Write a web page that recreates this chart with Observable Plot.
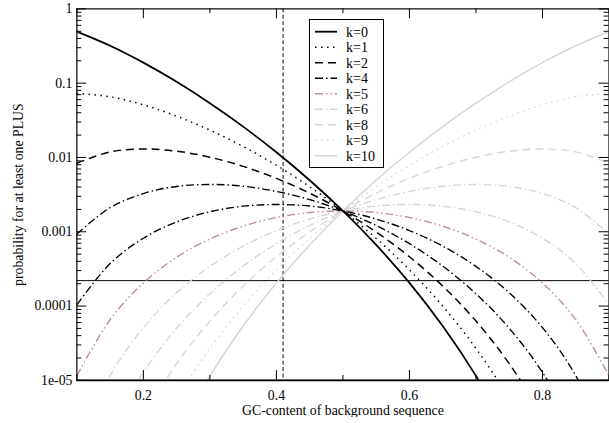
<!DOCTYPE html>
<html><head><meta charset="utf-8">
<script src="https://cdn.jsdelivr.net/npm/d3@7"></script>
<script src="https://cdn.jsdelivr.net/npm/@observablehq/plot@0.6"></script>
<style>
html,body{margin:0;padding:0;overflow:hidden;background:#fff;color:#000;}
#wrap{position:relative;width:609px;height:423px;overflow:hidden;}
#legend{position:absolute;left:0;top:0;}
</style></head><body><div id="wrap"></div>
<script>
// GC content of background sequence (x)
const gcContent = [0.10,0.15,0.20,0.25,0.30,0.35,0.40,0.45,0.50,0.55,0.60,0.65,0.70,0.75,0.80,0.85,0.90];
// probability for at least one PLUS, one array per k
const k0  = [0.494,0.319,0.189,0.1042,0.0537,0.0260,0.01174,0.00494,0.001906,6.65e-4,2.05e-4,5.39e-5,1.15e-5,1.86e-6,2.0e-7,1.13e-8,1.95e-10];
const k1  = [0.0729,0.0656,0.0511,0.0360,0.02335,0.01406,0.00784,0.00404,0.001906,8.13e-4,3.07e-4,1.0e-4,2.69e-5,5.59e-6,8.0e-7,6.4e-8,1.76e-9];
const k2  = [0.00837,0.0119,0.0130,0.01215,0.01008,0.00759,0.00524,0.00331,0.001906,9.93e-4,4.61e-4,1.86e-4,6.28e-5,1.68e-5,3.2e-6,3.62e-7,1.58e-8];
const k3  = [9.33e-4,0.00211,0.00327,0.00407,0.00433,0.00410,0.00349,0.00271,0.001906,0.001214,6.91e-4,3.45e-4,1.465e-4,5.03e-5,1.28e-5,2.05e-6,1.42e-7];
const k4  = [1.04e-4,3.73e-4,8.19e-4,0.001357,0.00186,0.00221,0.00233,0.00222,0.001906,0.001484,0.001037,6.41e-4,3.42e-4,1.51e-4,5.12e-5,1.16e-5,1.28e-6];
const k5  = [1.153e-5,6.58e-5,2.05e-4,4.53e-4,7.98e-4,0.00119,0.001555,0.001814,0.001906,0.001814,0.001555,0.00119,7.98e-4,4.53e-4,2.05e-4,6.58e-5,1.153e-5];
const k6  = [1.28e-6,1.16e-5,5.12e-5,1.51e-4,3.42e-4,6.41e-4,0.001037,0.001484,0.001906,0.00222,0.00233,0.00221,0.00186,0.001357,8.19e-4,3.73e-4,1.04e-4];
const k7  = [1.42e-7,2.05e-6,1.28e-5,5.03e-5,1.465e-4,3.45e-4,6.91e-4,0.001214,0.001906,0.00271,0.00349,0.00410,0.00433,0.00407,0.00327,0.00211,9.33e-4];
const k8  = [1.58e-8,3.62e-7,3.2e-6,1.68e-5,6.28e-5,1.86e-4,4.61e-4,9.93e-4,0.001906,0.00331,0.00524,0.00759,0.01008,0.01215,0.0130,0.0119,0.00837];
const k9  = [1.76e-9,6.4e-8,8.0e-7,5.59e-6,2.69e-5,1.0e-4,3.07e-4,8.13e-4,0.001906,0.00404,0.00784,0.01406,0.02335,0.0360,0.0511,0.0656,0.0729];
const k10 = [1.95e-10,1.13e-8,2.0e-7,1.86e-6,1.15e-5,5.39e-5,2.05e-4,6.65e-4,0.001906,0.00494,0.01174,0.0260,0.0537,0.1042,0.189,0.319,0.494];

const seriesNames = ["k=0","k=1","k=2","k=3","k=4","k=5","k=6","k=7","k=8","k=9","k=10"];
const seriesValues = [k0,k1,k2,k3,k4,k5,k6,k7,k8,k9,k10];
const legendNames = ["k=0","k=1","k=2","k=4","k=5","k=6","k=8","k=9","k=10"];

const yTickValues = [1,0.1,0.01,0.001,0.0001,0.00001];
const yTickLabels = ["1","0.1","0.01","0.001","0.0001","1e-05"];
const xTickValues = [0.2,0.4,0.6,0.8];
const xTickLabels = ["0.2","0.4","0.6","0.8"];
const xMinorTicks = [0.1,0.3,0.5,0.7,0.9];
const yMinorTicks = [];
for (const e of [-5,-4,-3,-2,-1]) for (const m of [2,3,4,5,6,7,8,9]) yMinorTicks.push(m * Math.pow(10, e));

const gcThreshold = 0.41;
const probThreshold = 0.00022;

const xTitle = "GC-content of background sequence";
const yTitle = "probability for at least one PLUS";

// styles
const FONT = "'Liberation Serif', 'Times New Roman', Times, serif";
const GRAY = "#d6d6d6", PINK = "#bc8f8f";
const DOT = "1.5,4.5", DASH = "8,5", DASHDOT = "8,3,1.5,3", DASHDOTDOT = "8,3,1.5,3,1.5,3";
const styles = {
  "k=0": {stroke:"#000", dash:null, w:1.8},
  "k=1": {stroke:"#000", dash:DOT, w:1.5},
  "k=2": {stroke:"#000", dash:DASH, w:1.5},
  "k=3": {stroke:"#000", dash:DASHDOT, w:1.4},
  "k=4": {stroke:"#000", dash:DASHDOT, w:1.4},
  "k=5": {stroke:PINK, dash:DASHDOTDOT, w:1.4},
  "k=6": {stroke:GRAY, dash:DASHDOT, w:1.4},
  "k=7": {stroke:GRAY, dash:DASHDOT, w:1.4},
  "k=8": {stroke:GRAY, dash:DASH, w:1.4},
  "k=9": {stroke:GRAY, dash:DOT, w:1.4},
  "k=10": {stroke:GRAY, dash:null, w:1.5}
};

const table = [];
seriesNames.forEach((name, j) => gcContent.forEach((g, i) => table.push({k: name, gc: g, prob: seriesValues[j][i]})));

const W = 618, H = 423, ML = 77.5, MR = 0.5, MT = 8.5, MB = 37.5;
const FW = W - ML - MR, FH = H - MT - MB;

const lineMarks = [];
for (let j = seriesNames.length - 1; j >= 0; j--) {
  const name = seriesNames[j], s = styles[name];
  const opts = {x: "gc", y: "prob", stroke: s.stroke, strokeWidth: s.w, curve: "catmull-rom", clip: true, strokeLinecap: "butt"};
  if (s.dash) opts.strokeDasharray = s.dash;
  lineMarks.push(Plot.line(table.filter(r => r.k === name), opts));
}

const fmtY = d => yTickLabels[yTickValues.indexOf(d)];
const fmtX = d => xTickLabels[xTickValues.indexOf(d)];

const chart = Plot.plot({
  width: W, height: H,
  marginLeft: ML, marginRight: MR, marginTop: MT, marginBottom: MB,
  style: {fontFamily: FONT, fontSize: "14px", background: "#fff", color: "#000"},
  x: {domain: [0.1, 0.9], axis: null},
  y: {type: "log", domain: [1e-5, 1], axis: null},
  marks: [
    Plot.ruleY([probThreshold], {stroke: "#000", strokeWidth: 1}),
    Plot.ruleX([gcThreshold], {stroke: "#000", strokeWidth: 1, strokeDasharray: "4,2.5"}),
    ...lineMarks,
    Plot.frame({stroke: "#000", strokeWidth: 1.2}),
    Plot.ruleY([1e-5], {stroke: "#000", strokeWidth: 1.8}),
    // inward ticks: left & right
    Plot.tickY(yTickValues, {y: d => d, stroke: "#000", insetRight: FW - 10}),
    Plot.tickY(yMinorTicks, {y: d => d, stroke: "#000", insetRight: FW - 5}),
    Plot.tickY(yTickValues, {y: d => d, stroke: "#000", insetLeft: FW - 10}),
    Plot.tickY(yMinorTicks, {y: d => d, stroke: "#000", insetLeft: FW - 5}),
    // inward ticks: bottom & top
    Plot.tickX(xTickValues, {x: d => d, stroke: "#000", insetTop: FH - 10}),
    Plot.tickX(xMinorTicks, {x: d => d, stroke: "#000", insetTop: FH - 5}),
    Plot.tickX(xTickValues, {x: d => d, stroke: "#000", insetBottom: FH - 10}),
    Plot.tickX(xMinorTicks, {x: d => d, stroke: "#000", insetBottom: FH - 5}),
    // tick labels and titles
    Plot.text(yTickValues, {y: d => d, frameAnchor: "left", textAnchor: "end", lineAnchor: "middle", dx: -4.5, fontSize: 14, text: fmtY}),
    Plot.text(xTickValues, {x: d => d, frameAnchor: "bottom", lineAnchor: "middle", textAnchor: "middle", dy: 15.5, fontSize: 14, text: fmtX}),
    Plot.text([xTitle], {frameAnchor: "bottom", lineAnchor: "middle", textAnchor: "middle", dy: 30.5, fontSize: 14, text: d => d}),
    Plot.text([yTitle], {frameAnchor: "left", lineAnchor: "middle", textAnchor: "middle", dx: -59, rotate: -90, fontSize: 14, text: d => d})
  ]
});
const wrap = document.getElementById("wrap");
wrap.appendChild(chart);

// legend box
const lg = d3.select(wrap).append("svg").attr("id", "legend").attr("width", 609).attr("height", 423);
const bx = 309.5, by = 19.5, bw = 74, bh = 148;
lg.append("rect").attr("x", bx).attr("y", by).attr("width", bw).attr("height", bh)
  .attr("fill", "#fff").attr("stroke", "#000").attr("stroke-width", 1);
legendNames.forEach((name, j) => {
  const s = styles[name];
  const yy = 31.7 + 15.5 * j;
  lg.append("line").attr("x1", 315).attr("x2", 337).attr("y1", yy).attr("y2", yy)
    .attr("stroke", s.stroke).attr("stroke-width", s.w)
    .attr("stroke-dasharray", s.dash || null);
  lg.append("text").attr("x", 346).attr("y", yy).attr("dy", "0.35em")
    .attr("font-family", FONT).attr("font-size", 14)
    .attr("fill", "#000").text(name);
});
</script></body></html>
